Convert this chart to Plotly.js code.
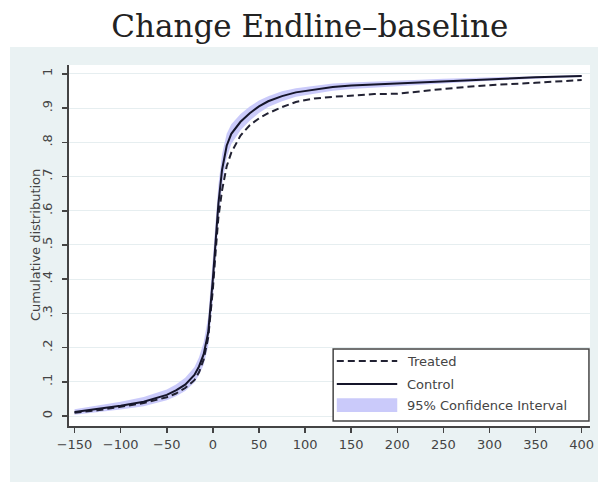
<!DOCTYPE html>
<html>
<head>
<meta charset="utf-8">
<script src="https://cdn.plot.ly/plotly-3.0.1.min.js"></script>
<style>html,body{margin:0;padding:0;background:#fff;}#chart{width:598px;height:482px;}</style>
</head>
<body>
<div id="chart"></div>
<script>
// Data
var xVals = [-150, -125, -100, -75, -50, -40, -30, -20, -15, -10, -5, 0, 3, 6, 10, 15, 20, 30, 40, 50, 60, 75, 90, 110, 130, 150, 175, 200, 225, 250, 275, 300, 350, 400];
var control = [0.012, 0.02, 0.03, 0.042, 0.062, 0.075, 0.092, 0.12, 0.145, 0.18, 0.245, 0.40, 0.52, 0.62, 0.72, 0.79, 0.825, 0.86, 0.885, 0.905, 0.92, 0.935, 0.946, 0.955, 0.962, 0.966, 0.969, 0.972, 0.977, 0.98, 0.983, 0.985, 0.99, 0.994];
var treated = [0.010, 0.017, 0.027, 0.038, 0.055, 0.066, 0.082, 0.105, 0.128, 0.165, 0.23, 0.37, 0.48, 0.58, 0.66, 0.73, 0.77, 0.82, 0.85, 0.87, 0.885, 0.903, 0.918, 0.928, 0.933, 0.937, 0.941, 0.942, 0.95, 0.956, 0.962, 0.967, 0.974, 0.982];
var ciLow  = [0.004, 0.011, 0.019, 0.029, 0.046, 0.058, 0.073, 0.098, 0.12, 0.15, 0.205, 0.34, 0.46, 0.565, 0.675, 0.755, 0.795, 0.835, 0.863, 0.886, 0.903, 0.92, 0.933, 0.943, 0.951, 0.956, 0.96, 0.964, 0.97, 0.974, 0.977, 0.98, 0.986, 0.991];
var ciHigh = [0.02, 0.03, 0.042, 0.056, 0.078, 0.092, 0.112, 0.143, 0.172, 0.215, 0.29, 0.46, 0.58, 0.675, 0.765, 0.825, 0.853, 0.883, 0.905, 0.922, 0.935, 0.949, 0.958, 0.966, 0.972, 0.975, 0.977, 0.979, 0.983, 0.986, 0.988, 0.99, 0.994, 0.997];
var yTickVals = [0, 0.1, 0.2, 0.3, 0.4, 0.5, 0.6, 0.7, 0.8, 0.9, 1];
var yTickText = ["0", ".1", ".2", ".3", ".4", ".5", ".6", ".7", ".8", ".9", "1"];
var xTickVals = [-150, -100, -50, 0, 50, 100, 150, 200, 250, 300, 350, 400];
var legendLabels = ["Treated", "Control", "95% Confidence Interval"];
var yTitle = "Cumulative distribution";

var bandColor = 'rgba(196,196,250,0.9)';
var treatedColor = '#222233';
var controlColor = '#15152a';
var dashPattern = '7px,4px';

var traces = [
  {x: xVals, y: ciLow, type: 'scatter', mode: 'lines', line: {width: 0, color: 'rgba(0,0,0,0)'}, showlegend: false, hoverinfo: 'skip'},
  {x: xVals, y: ciHigh, type: 'scatter', mode: 'lines', fill: 'tonexty', fillcolor: bandColor, line: {width: 0, color: 'rgba(0,0,0,0)'}, showlegend: false},
  {x: xVals, y: treated, type: 'scatter', mode: 'lines', line: {color: treatedColor, width: 2, dash: dashPattern}, showlegend: false},
  {x: xVals, y: control, type: 'scatter', mode: 'lines', line: {color: controlColor, width: 2}, showlegend: false}
];

// Custom legend (paper coordinates)
var lgX0 = 0.507, lgX1 = 0.998, lgY0 = 0.014, lgY1 = 0.213;
var swX0 = 0.514, swX1 = 0.630, txtX = 0.645;
var rowY = [0.180, 0.116, 0.058];

var textFont = {family: 'DejaVu Sans', size: 13, color: '#444'};

var annotations = legendLabels.map(function (t, i) {
  return {text: t, xref: 'paper', yref: 'paper', x: txtX, y: rowY[i], xanchor: 'left', yanchor: 'middle', showarrow: false, font: textFont};
});
annotations.push({text: yTitle, xref: 'paper', yref: 'paper', x: -0.0653, y: 0.501, xanchor: 'center', yanchor: 'middle', textangle: -90, showarrow: false, font: textFont});

var layout = {
  width: 598, height: 482,
  paper_bgcolor: '#eaf2f3',
  plot_bgcolor: '#ffffff',
  margin: {l: 69, r: 8, t: 65, b: 56},
  showlegend: false,
  title: {text: 'Change Endline\u2013baseline', font: {family: 'DejaVu Serif', size: 31, color: '#222'}, x: 0.518, xanchor: 'center', y: 0.945, yanchor: 'middle'},
  xaxis: {
    range: [-156, 409], tickvals: xTickVals, ticks: 'outside', ticklen: 5, tickwidth: 1.5, tickcolor: '#444',
    showline: true, linecolor: '#444', linewidth: 2, showgrid: false, zeroline: false,
    tickfont: textFont
  },
  yaxis: {
    range: [-0.029, 1.026], tickvals: yTickVals, ticktext: yTickText, tickangle: -90, ticks: 'outside', ticklen: 5, tickwidth: 1.5, tickcolor: '#444',
    showline: true, linecolor: '#444', linewidth: 2, showgrid: true, gridcolor: '#e6eef0', gridwidth: 1, zeroline: false,
    tickfont: textFont, ticklabelstandoff: 5
  },
  shapes: [
    // white strips outside the Stata graph region
    {type: 'rect', xref: 'paper', yref: 'paper', x0: -0.14, x1: 1.02, y0: 1.05, y1: 1.2, fillcolor: '#ffffff', line: {width: 0}, layer: 'below'},
    {type: 'rect', xref: 'paper', yref: 'paper', x0: -0.14, x1: -0.1132, y0: -0.2, y1: 1.2, fillcolor: '#ffffff', line: {width: 0}, layer: 'below'},
    // legend box
    {type: 'rect', xref: 'paper', yref: 'paper', x0: lgX0, x1: lgX1, y0: lgY0, y1: lgY1, fillcolor: '#ffffff', line: {color: '#444', width: 1.5}, layer: 'above'},
    {type: 'line', xref: 'paper', yref: 'paper', x0: swX0, x1: swX1, y0: rowY[0], y1: rowY[0], line: {color: treatedColor, width: 2, dash: dashPattern}},
    {type: 'line', xref: 'paper', yref: 'paper', x0: swX0, x1: swX1, y0: rowY[1], y1: rowY[1], line: {color: controlColor, width: 2}},
    {type: 'rect', xref: 'paper', yref: 'paper', x0: swX0, x1: swX1, y0: rowY[2] - 0.019, y1: rowY[2] + 0.019, fillcolor: bandColor, line: {width: 0}}
  ],
  annotations: annotations
};

Plotly.newPlot('chart', traces, layout, {displayModeBar: false, staticPlot: true});
</script>
</body>
</html>
